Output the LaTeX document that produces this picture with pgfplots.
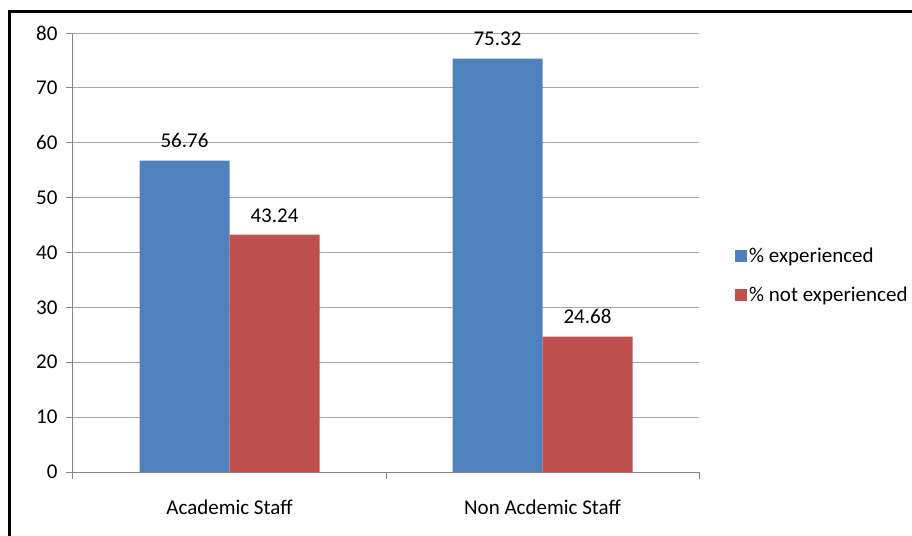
\documentclass[border=0pt]{standalone}
\usepackage{pgfplots}
\pgfplotsset{compat=1.18}
\usepackage{fontspec}
\setmainfont{Carlito}
\definecolor{barblue}{HTML}{4F81BD}
\definecolor{barred}{HTML}{C0504D}
\definecolor{gridgray}{HTML}{A6A6A6}
\definecolor{axisgray}{HTML}{868686}

\begin{document}
\begin{tikzpicture}
\useasboundingbox (-73pt,-63pt) rectangle (839pt,472pt);
\begin{axis}[
    at={(0,0)}, anchor=south west,
    scale only axis,
    width=626pt, height=439pt,
    ybar=0pt, bar width=90pt,
    xmin=-0.5, xmax=1.5,
    ymin=0, ymax=80,
    ytick={0,10,...,80},
    xtick={-0.5,0.5,1.5}, xticklabels={},
    extra x ticks={0,1},
    extra x tick labels={Academic Staff, Non Acdemic Staff},
    extra x tick style={major tick length=0pt, xticklabel style={yshift=-24pt}},
    axis x line=bottom, axis y line=left,
    axis line style={axisgray, -, line width=1pt},
    tick align=outside, major tick length=7pt,
    tick style={axisgray, line width=1pt},
    ymajorgrids, grid style={gridgray, line width=0.8pt},
    font=\fontsize{21}{24}\selectfont,
    /pgf/number format/assume math mode=true,
    yticklabel style={xshift=-5pt},
    nodes near coords,
    nodes near coords style={yshift=9pt, font=\fontsize{21}{24}\selectfont},
    legend style={at={(rel axis cs:1.0575,0.447)}, anchor=west, draw=none,
        fill=none, font=\fontsize{21}{24}\selectfont,
        row sep=19pt, inner sep=0pt},
    legend cell align=left,
    legend image code/.code={\fill[#1] (0pt,-6pt) rectangle (12pt,6pt);},
]
\addplot[fill=barblue, draw=none] coordinates {(0,56.76) (1,75.32)};
\addplot[fill=barred, draw=none] coordinates {(0,43.24) (1,24.68)};
\legend{\% experienced, \% not experienced}
\end{axis}
\draw[line width=3pt] (-63pt,-100pt) rectangle (900pt,460.5pt);
\end{tikzpicture}
\end{document}
